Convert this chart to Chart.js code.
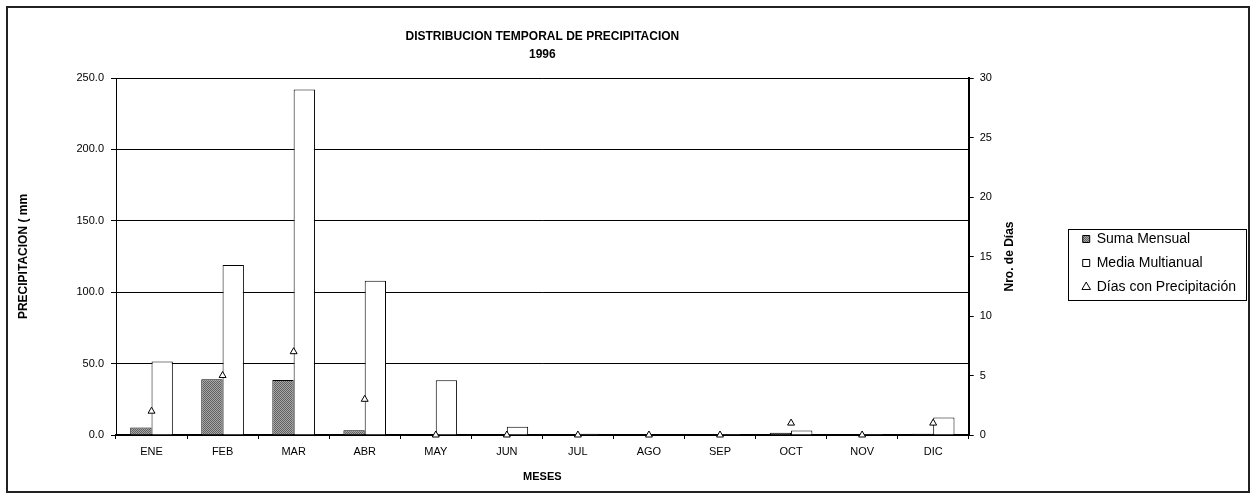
<!DOCTYPE html>
<html>
<head>
<meta charset="utf-8">
<title>Distribucion temporal de precipitacion 1996</title>
<script src="https://cdn.jsdelivr.net/npm/chart.js@4/dist/chart.umd.min.js"></script>
<style>
  body { margin: 0; background: #fff; }
  #contenedor { width: 1256px; height: 498px; }
</style>
</head>
<body>
<div id="contenedor"><canvas id="graficoPrecipitacion" width="1256" height="498"></canvas></div>
<script>
// Datos
const meses = ['ENE', 'FEB', 'MAR', 'ABR', 'MAY', 'JUN', 'JUL', 'AGO', 'SEP', 'OCT', 'NOV', 'DIC'];
const sumaMensual = [5.3, 39.0, 38.5, 3.3, 0, 0, 0, 0, 0, 1.5, 0, 0.8];
const mediaMultianual = [51.5, 119.0, 242.0, 108.0, 38.3, 5.8, 0.8, 0, 0.7, 3.2, 0.7, 12.2];
const diasPrecipitacion = [2, 5, 7, 3, 0, 0, 0, 0, 0, 1, 0, 1];

const fuente = '"Liberation Sans", Arial, sans-serif';
Chart.defaults.font.family = fuente;
Chart.defaults.color = '#000';

// Trama gris punteada para la suma mensual
function crearTrama() {
    const c = document.createElement('canvas');
    c.width = 2;
    c.height = 2;
    const g = c.getContext('2d');
    g.fillStyle = '#a8a8a8';
    g.fillRect(0, 0, 2, 2);
    g.fillStyle = '#606060';
    g.fillRect(0, 0, 1, 1);
    g.fillRect(1, 1, 1, 1);
    return g.createPattern(c, 'repeat');
}
const trama = crearTrama();

// Marco exterior, recuadro de la leyenda y titulo del eje derecho
const marcoPlugin = {
    id: 'marco',
    beforeDraw(chart) {
        const ctx = chart.ctx;
        ctx.save();
        ctx.fillStyle = '#fff';
        ctx.fillRect(0, 0, chart.width, chart.height);
        ctx.restore();
    },
    afterDraw(chart) {
        const ctx = chart.ctx;
        ctx.save();
        ctx.strokeStyle = '#222';
        ctx.lineWidth = 2;
        ctx.strokeRect(7, 7, chart.width - 14, chart.height - 13);

        const lg = chart.legend;
        const cajas = lg.legendHitBoxes;
        if (cajas && cajas.length) {
            const ultima = cajas[cajas.length - 1];
            const y0 = cajas[0].top - 3;
            const y1 = ultima.top + ultima.height + 6;
            ctx.lineWidth = 1;
            ctx.strokeStyle = '#000';
            ctx.strokeRect(Math.round(lg.left - 5) + 0.5, Math.round(y0) + 0.5,
                Math.round(lg.right - lg.left + 5), Math.round(y1 - y0));
        }

        const eje = chart.scales.y1;
        const area = chart.chartArea;
        ctx.translate(eje.left + 41, (area.top + area.bottom) / 2);
        ctx.rotate(-Math.PI / 2);
        ctx.font = 'bold 12px ' + fuente;
        ctx.fillStyle = '#000';
        ctx.textAlign = 'center';
        ctx.textBaseline = 'middle';
        ctx.fillText('Nro. de Días', 0, 0);
        ctx.restore();
    }
};

const ctx = document.getElementById('graficoPrecipitacion').getContext('2d');
new Chart(ctx, {
    data: {
        labels: meses,
        datasets: [
            {
                type: 'line',
                label: 'Días con Precipitación',
                data: diasPrecipitacion,
                yAxisID: 'y1',
                showLine: false,
                pointStyle: 'triangle',
                pointRadius: 4,
                pointBackgroundColor: '#fff',
                pointBorderColor: '#000',
                backgroundColor: '#fff',
                borderColor: '#000',
                borderWidth: 1,
                clip: false,
                order: 0
            },
            {
                type: 'bar',
                label: 'Suma Mensual',
                data: sumaMensual,
                yAxisID: 'y',
                backgroundColor: trama,
                borderColor: '#000',
                borderWidth: 1,
                barPercentage: 1,
                categoryPercentage: 0.6,
                order: 1
            },
            {
                type: 'bar',
                label: 'Media Multianual',
                data: mediaMultianual,
                yAxisID: 'y',
                backgroundColor: '#fff',
                borderColor: '#000',
                borderWidth: 1,
                barPercentage: 1,
                categoryPercentage: 0.6,
                order: 1
            }
        ]
    },
    options: {
        responsive: false,
        animation: false,
        layout: { padding: { top: 28, left: 8, right: 10, bottom: 0 } },
        plugins: {
            title: {
                display: true,
                text: ['DISTRIBUCION TEMPORAL DE PRECIPITACION', '1996'],
                fullSize: false,
                color: '#000',
                font: { size: 12, weight: 'bold', lineHeight: 1.5 },
                padding: { top: 0, bottom: 14 }
            },
            legend: {
                display: true,
                position: 'right',
                labels: {
                    usePointStyle: true,
                    boxWidth: 7,
                    boxHeight: 7,
                    padding: 10,
                    color: '#000',
                    font: { size: 14 },
                    // orden y simbolos como en la leyenda original
                    generateLabels(chart) {
                        const items = Chart.defaults.plugins.legend.labels.generateLabels(chart);
                        items.forEach(it => {
                            it.pointStyle = it.datasetIndex === 0 ? 'triangle' : 'rect';
                            it.strokeStyle = '#000';
                            it.lineWidth = 1;
                        });
                        const orden = [2, 0, 1];
                        items.sort((a, b) => orden[a.datasetIndex] - orden[b.datasetIndex]);
                        return items;
                    }
                }
            },
            tooltip: { enabled: false }
        },
        scales: {
            x: {
                grid: { display: true, drawOnChartArea: false, color: '#000', tickLength: 4, offset: true },
                border: { display: true, color: '#000', width: 2 },
                ticks: { font: { size: 11 }, padding: 6, color: '#000' },
                title: {
                    display: true,
                    text: 'MESES',
                    font: { size: 11, weight: 'bold' },
                    padding: { top: 0, bottom: 14 }
                },
                afterFit(scale) { scale.height = 63; }
            },
            y: {
                position: 'left',
                min: 0,
                max: 250,
                ticks: {
                    stepSize: 50,
                    font: { size: 11 },
                    padding: 7,
                    color: '#000',
                    callback: v => v.toFixed(1)
                },
                grid: { color: '#000', lineWidth: 1, tickLength: 5 },
                border: { display: true, color: '#000', width: 1 },
                title: {
                    display: true,
                    text: 'PRECIPITACION ( mm',
                    font: { size: 12, weight: 'bold' },
                    padding: { top: 8, bottom: 0 }
                },
                afterFit(scale) { scale.width = 108; }
            },
            y1: {
                position: 'right',
                min: 0,
                max: 30,
                ticks: { stepSize: 5, font: { size: 11 }, padding: 6, color: '#000' },
                grid: { drawOnChartArea: false, color: '#000', tickLength: 5 },
                border: { display: true, color: '#000', width: 2 },
                title: { display: false },
                afterFit(scale) { scale.width = 104; }
            }
        }
    },
    plugins: [marcoPlugin]
});
</script>
</body>
</html>
